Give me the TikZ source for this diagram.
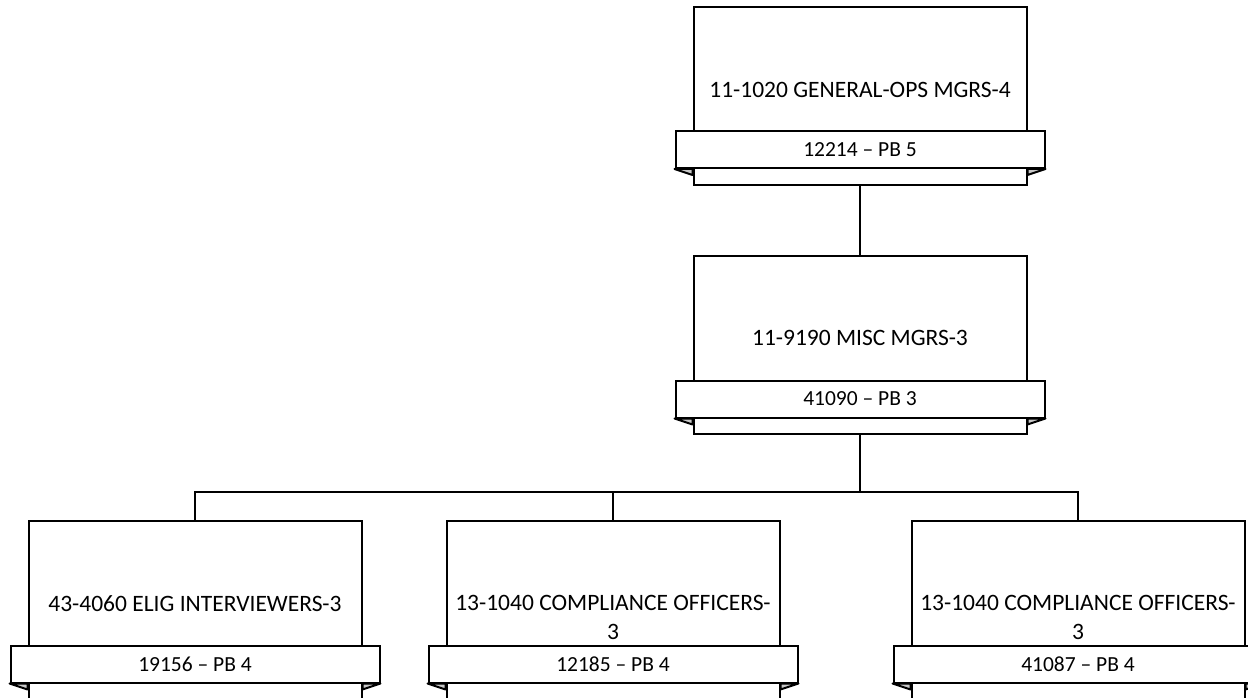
\documentclass[tikz,border=0pt]{standalone}
\usepackage{fontspec}
\setmainfont{Carlito}
\usetikzlibrary{positioning}
\tikzset{
  post/.style={draw, fill=white, minimum width=333pt, minimum height=178pt, inner sep=0pt},
  band/.style={draw, fill=white, minimum width=369pt, minimum height=37pt, inner sep=0pt, font=\fontsize{21.5}{25}\selectfont},
  title/.style={anchor=north, align=center, inner sep=0pt, font=\fontsize{23.5}{29}\selectfont},
  fold/.style={draw, fill=black!22, line join=round},
}
% the two small turned-under corners of a band
\newcommand{\bandfolds}[1]{%
  \filldraw[fold] (#1.south west) -- ++(18,6) -- ++(0,-6) -- cycle;
  \filldraw[fold] (#1.south east) -- ++(-18,6) -- ++(0,-6) -- cycle;}
\begin{document}
\begin{tikzpicture}[x=1pt, y=-1pt, line width=2pt]
    \useasboundingbox (0,0) rectangle (1248,698);
    \clip (0,0) rectangle (1248,698);
    % top level
    \node[post] (gen) at (860,96) {};
    \node[band] (genB) at (860,149.5) {12214 – PB 5};
    \node[title] (genT) at ([yshift=49pt]genB.north) {11-1020 GENERAL-OPS MGRS-4};
    \bandfolds{genB}
    % second level
    \node[post] (misc) at (860,345) {};
    \node[band] (miscB) at (860,399) {41090 – PB 3};
    \node[title] (miscT) at ([yshift=50pt]miscB.north) {11-9190 MISC MGRS-3};
    \bandfolds{miscB}
    % third level
    \node[post] (elig) at (195,610) {};
    \node[band] (eligB) at (195,664) {19156 – PB 4};
    \node[title] (eligT) at ([yshift=50pt]eligB.north) {43-4060 ELIG INTERVIEWERS-3};
    \bandfolds{eligB}
    \node[post] (compA) at (613,610) {};
    \node[band] (compAB) at (613,664) {12185 – PB 4};
    \node[title] (compAT) at ([yshift=50pt]compAB.north) {13-1040 COMPLIANCE OFFICERS-\\3};
    \bandfolds{compAB}
    \node[post] (compB) at (1078,610) {};
    \node[band] (compBB) at (1078,664) {41087 – PB 4};
    \node[title] (compBT) at ([yshift=50pt]compBB.north) {13-1040 COMPLIANCE OFFICERS-\\3};
    \bandfolds{compBB}
    % connectors
    \coordinate (bus) at (860,492);
    \draw (gen.south) -- (misc.north);
    \draw (misc.south) -- (bus);
    \draw (bus) -| (elig.north);
    \draw (bus) -| (compA.north);
    \draw (bus) -| (compB.north);
\end{tikzpicture}
\end{document}
